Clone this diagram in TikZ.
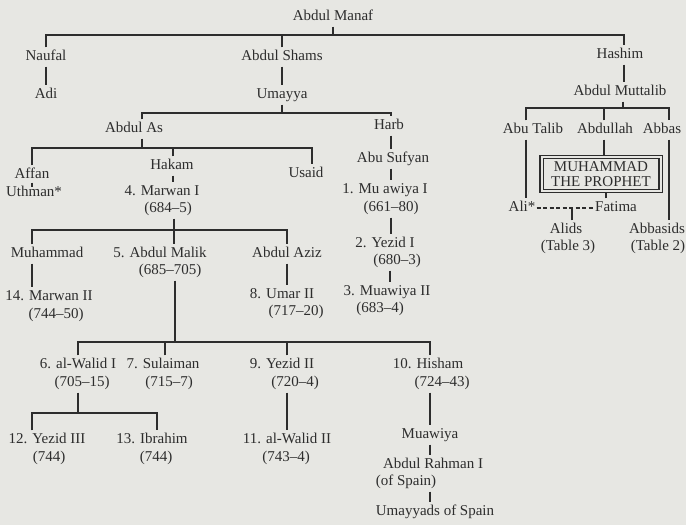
\documentclass[tikz,border=0pt]{standalone}
\usepackage{fontspec}
\setmainfont{Liberation Serif}
\definecolor{bg}{RGB}{231,231,227}
\definecolor{ink}{RGB}{45,45,45}
\begin{document}
\begin{tikzpicture}[x=1pt,y=-1pt,
  nm/.style={font=\fontsize{15}{17}\selectfont, text=ink, text height=10.5pt, text depth=3.5pt, inner xsep=1pt, inner ysep=2.5pt},
  ln/.style={draw=ink, line width=1.5pt},
  dashln/.style={draw=ink, line width=1.2pt, dash pattern=on 4pt off 2.5pt},
  pbox/.style={draw=ink, double=bg, double distance=2pt, line width=1.2pt, minimum width=119pt, minimum height=34pt, align=center, font=\fontsize{15}{15}\selectfont, text=ink, inner sep=1pt}]
\fill[bg] (0,0) rectangle (686,525);
\useasboundingbox (0,0) rectangle (686,525);

% ---------- nodes ----------
\node[nm] (manaf) at (333,17) {Abdul Manaf};
\node[nm] (naufal) at (46,57) {Naufal};
\node[nm] (adi) at (46,95) {Adi};
\node[nm] (shams) at (282,57) {Abdul Shams};
\node[nm] (umayya) at (282,95) {Umayya};
\node[nm] (hashim) at (620,55) {Hashim};
\node[nm] (muttalib) at (620,92) {Abdul Muttalib};

\node[nm] (abdulas) at (134,129) {Abdul As};
\node[nm] (harb) at (389,126) {Harb};
\node[nm] (abusufyan) at (393,159) {Abu Sufyan};
\node[nm] (affan) at (32,175) {Affan};
\node[nm] (uthman) at (34,193) {Uthman*};
\node[nm] (hakam) at (172,166) {Hakam};
\node[nm] (usaid) at (306,174) {Usaid};
\node[nm] (marwanI) at (162,192) {4. Marwan I};
\node[nm] (marwanId) at (168,209) {(684–5)};

\node[nm] (muawiyaI) at (385,190) {1. Mu awiya I};
\node[nm] (muawiyaId) at (391,208) {(661–80)};
\node[nm] (yezidI) at (385,244) {2. Yezid I};
\node[nm] (yezidId) at (397,261) {(680–3)};
\node[nm] (muawiyaII) at (387,292) {3. Muawiya II};
\node[nm] (muawiyaIId) at (380,309) {(683–4)};

\node[nm] (abutalib) at (533,130) {Abu Talib};
\node[nm] (abdullah) at (605,130) {Abdullah};
\node[nm] (abbas) at (662,130) {Abbas};
\node[pbox] (prophet) at (601,174) {MUHAMMAD\\THE PROPHET};
\node[nm] (ali) at (522,208) {Ali*};
\node[nm] (fatima) at (616,208) {Fatima};
\node[nm] (alids) at (566,230) {Alids};
\node[nm] (alidst) at (568,247) {(Table 3)};
\node[nm] (abbasids) at (657,230) {Abbasids};
\node[nm] (abbasidst) at (658,247) {(Table 2)};

\node[nm] (muhammad) at (47,254) {Muhammad};
\node[nm] (marwanII) at (49,297) {14. Marwan II};
\node[nm] (marwanIId) at (56,315) {(744–50)};
\node[nm] (malik) at (160,254) {5. Abdul Malik};
\node[nm] (malikd) at (170,271) {(685–705)};
\node[nm] (aziz) at (287,254) {Abdul Aziz};
\node[nm] (umarII) at (282,295) {8. Umar II};
\node[nm] (umarIId) at (296,312) {(717–20)};

\node[nm] (walidI) at (78,365) {6. al-Walid I};
\node[nm] (walidId) at (82,383) {(705–15)};
\node[nm] (sulaiman) at (163,365) {7. Sulaiman};
\node[nm] (sulaimand) at (169,383) {(715–7)};
\node[nm] (yezidII) at (282,365) {9. Yezid II};
\node[nm] (yezidIId) at (295,383) {(720–4)};
\node[nm] (hisham) at (428,365) {10. Hisham};
\node[nm] (hishamd) at (442,383) {(724–43)};

\node[nm] (yezidIII) at (47,440) {12. Yezid III};
\node[nm] (yezidIIId) at (49,458) {(744)};
\node[nm] (ibrahim) at (152,440) {13. Ibrahim};
\node[nm] (ibrahimd) at (156,458) {(744)};
\node[nm] (walidII) at (287,440) {11. al-Walid II};
\node[nm] (walidIId) at (286,458) {(743–4)};
\node[nm] (muawiya) at (430,435) {Muawiya};
\node[nm] (rahman) at (433,465) {Abdul Rahman I};
\node[nm] (ofspain) at (406,482) {(of Spain)};
\node[nm] (spain) at (435,512) {Umayyads of Spain};

% ---------- bus coordinates ----------
\coordinate (b0) at (333,35);
\coordinate (b1) at (282,113);
\coordinate (b2) at (142,148);
\coordinate (b3) at (174,230);
\coordinate (b4) at (175,342);
\coordinate (b5) at (78,413);
\coordinate (b6) at (623,108);

% ---------- connectors ----------
% Abdul Manaf
\draw[ln] (manaf.south) -- (b0);
\draw[ln] (naufal.north) -- (naufal.north |- b0) -- ([xshift=4pt]hashim.north |- b0) -- ([xshift=4pt]hashim.north);
\draw[ln] (shams.north) -- (shams.north |- b0);
\draw[ln] (naufal) -- (adi);
\draw[ln] (shams) -- (umayya);
\draw[ln] ([xshift=4pt]hashim.south) -- ([xshift=4pt]hashim.south |- muttalib.north);

% Umayya
\draw[ln] (umayya.south) -- (b1);
\draw[ln] ([xshift=8pt]abdulas.north) -- ([xshift=8pt]abdulas.north |- b1) -- ([xshift=2pt]harb.north |- b1) -- ([xshift=2pt]harb.north);

% Harb line
\draw[ln] ([xshift=2pt]harb.south) -- ([xshift=2pt]harb.south |- abusufyan.north);
\draw[ln] ([xshift=-2pt]abusufyan.south) -- ([xshift=-2pt]abusufyan.south |- muawiyaI.north);
\draw[ln] (muawiyaId.south) -- (muawiyaId.south |- yezidI.north);
\draw[ln] ([xshift=-7pt]yezidId.south) -- ([xshift=-7pt]yezidId.south |- muawiyaII.north);

% Abdul As
\draw[ln] ([xshift=8pt]abdulas.south) -- ([xshift=8pt]abdulas.south |- b2);
\draw[ln] (affan.north) -- (affan.north |- b2) -- ([xshift=6pt]usaid.north |- b2) -- ([xshift=6pt]usaid.north);
\draw[ln] ([xshift=1pt]hakam.north) -- ([xshift=1pt]hakam.north |- b2);
\draw[ln] (affan.south) ++(0,-2) -- ++(0,4);
\draw[ln] ([xshift=1pt]hakam.south) -- ([xshift=1pt]hakam.south |- marwanI.north);

% Marwan I
\draw[ln] ([xshift=6pt]marwanId.south) -- ([xshift=6pt]marwanId.south |- malik.north);
\draw[ln] ([xshift=-15pt]muhammad.north) -- ([xshift=-15pt]muhammad.north |- b3) -- (aziz.north |- b3) -- (aziz.north);
\draw[ln] ([xshift=-15pt]muhammad.south) -- ([xshift=-15pt]muhammad.south |- marwanII.north);
\draw[ln] (aziz.south) -- (aziz.south |- umarII.north);

% Abdul Malik
\draw[ln] ([xshift=5pt]malikd.south) -- ([xshift=5pt]malikd.south |- b4);
\draw[ln] (walidI.north) -- (walidI.north |- b4) -- ([xshift=2pt]hisham.north |- b4) -- ([xshift=2pt]hisham.north);
\draw[ln] ([xshift=2pt]sulaiman.north) -- ([xshift=2pt]sulaiman.north |- b4);
\draw[ln] ([xshift=5pt]yezidII.north) -- ([xshift=5pt]yezidII.north |- b4);

% al-Walid I
\draw[ln] ([xshift=-4pt]walidId.south) -- ([xshift=-4pt]walidId.south |- b5);
\draw[ln] ([xshift=-15pt]yezidIII.north) -- ([xshift=-15pt]yezidIII.north |- b5) -- ([xshift=5pt]ibrahim.north |- b5) -- ([xshift=5pt]ibrahim.north);

% Yezid II, Hisham
\draw[ln] ([xshift=-8pt]yezidIId.south) -- ([xshift=-8pt]yezidIId.south |- walidII.north);
\draw[ln] ([xshift=-12pt]hishamd.south) -- ([xshift=-12pt]hishamd.south |- muawiya.north);
\draw[ln] (muawiya.south) -- (muawiya.south |- rahman.north);
\draw[ln] ([xshift=-3pt]rahman.south |- ofspain.south) -- ([xshift=-3pt]rahman.south |- spain.north);

% Abdul Muttalib
\draw[ln] ([xshift=3pt]muttalib.south) -- ([xshift=3pt]muttalib.south |- b6);
\draw[ln] ([xshift=-7pt]abutalib.north) -- ([xshift=-7pt]abutalib.north |- b6) -- ([xshift=7pt]abbas.north |- b6) -- ([xshift=7pt]abbas.north);
\draw[ln] ([xshift=-1pt]abdullah.north) -- ([xshift=-1pt]abdullah.north |- b6);
\draw[ln] ([xshift=-7pt]abutalib.south) -- ([xshift=-7pt]abutalib.south |- ali.north);
\draw[ln] ([xshift=7pt]abbas.south) -- ([xshift=7pt]abbas.south |- abbasids.north);
\draw[ln] ([xshift=-1pt]abdullah.south) -- ([xshift=-1pt]abdullah.south |- prophet.north);
\draw[ln] ([xshift=-10pt]fatima.north) -- ([xshift=-10pt]fatima.north |- prophet.south);
\draw[dashln] (ali.east) -- (fatima.west);
\draw[ln] ([xshift=6pt]alids.north) -- ([xshift=6pt]alids.north |- ali);
\end{tikzpicture}
\end{document}
